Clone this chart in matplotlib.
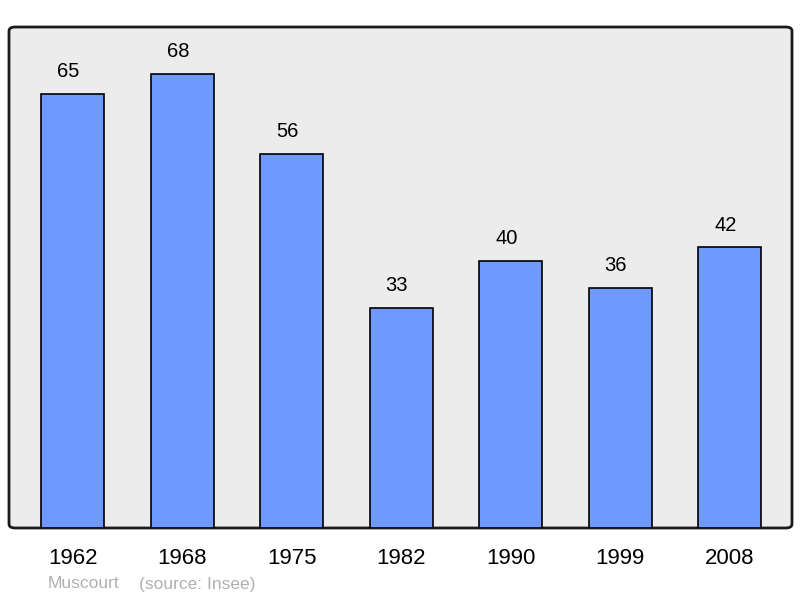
import matplotlib.pyplot as plt
from matplotlib.patches import FancyBboxPatch

plt.rcParams['font.family'] = ['Liberation Sans', 'DejaVu Sans']

years = ['1962', '1968', '1975', '1982', '1990', '1999', '2008']
population = [65, 68, 56, 33, 40, 36, 42]

fig = plt.figure(figsize=(8, 5.98), dpi=100)
ax = fig.add_axes([9/800, 1-528/598, 783/800, 501/598])
ax.set_facecolor('none')

# rounded grey frame behind the bars
frame = FancyBboxPatch((0, 0), 1, 1,
                       boxstyle='round,pad=0,rounding_size=0.008',
                       transform=ax.transAxes, facecolor='#ececec',
                       edgecolor='#1a1a1a', linewidth=2, zorder=0,
                       clip_on=False)
ax.add_patch(frame)

x = range(len(years))
bars = ax.bar(x, population, width=0.575, color='#7099ff',
              edgecolor='black', linewidth=1.2, zorder=2)
for xi, v in zip(x, population):
    ax.annotate(str(v), (xi, v), xytext=(-3, 9), textcoords='offset points',
                ha='center', va='bottom', fontsize=14.5)

ax.set_xlim(-0.58, 6.57)
ax.set_ylim(0, 75)
ax.set_xticks(list(x))
ax.set_xticklabels(years, fontsize=16)
ax.tick_params(axis='x', length=0, pad=14.5)
ax.set_yticks([])
for s in ax.spines.values():
    s.set_visible(False)

fig.text(48/800, 1-584/598, 'Muscourt', color='#b0b0b0', fontsize=12.5, va='center')
fig.text(139/800, 1-584/598, '(source: Insee)', color='#b0b0b0', fontsize=12.5, va='center')

fig.savefig('out.png', dpi=100)
